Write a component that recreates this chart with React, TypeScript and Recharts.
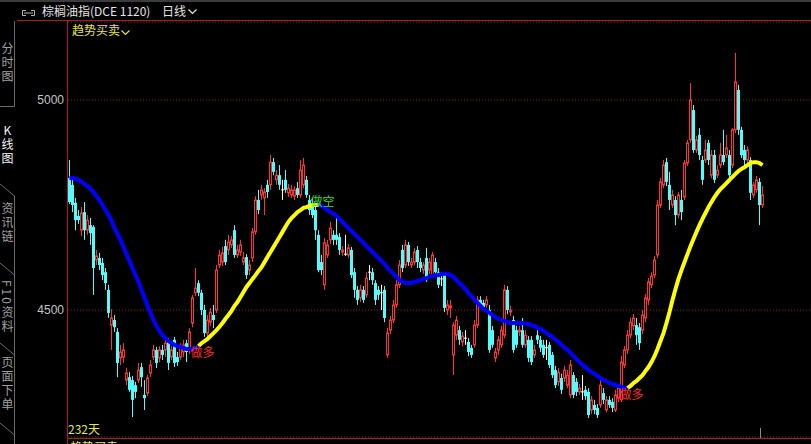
import React from 'react';
import { ComposedChart, Bar, Line, XAxis, YAxis, CartesianGrid, ReferenceDot } from 'recharts';

// 棕榈油指 daily candles (OHLC), oldest first
const openPx = [
  4814, 4798, 4755, 4724, 4690, 4733, 4690, 4702, 4698, 4619,
  4624, 4612, 4590, 4548, 4464, 4476, 4448, 4386, 4388, 4333,
  4340, 4333, 4321, 4333, 4364, 4298, 4302, 4350, 4388, 4405,
  4386, 4405, 4405, 4424, 4388, 4429, 4388, 4388, 4400, 4421,
  4405, 4469, 4541, 4564, 4541, 4500, 4445, 4471, 4488, 4500,
  4607, 4614, 4652, 4643, 4655, 4690, 4631, 4638, 4614, 4626,
  4595, 4624, 4686, 4762, 4774, 4767, 4798, 4798, 4852, 4810,
  4821, 4786, 4810, 4779, 4774, 4771, 4790, 4774, 4798, 4810,
  4762, 4750, 4738, 4679, 4614, 4560, 4631, 4667, 4679, 4679,
  4674, 4638, 4633, 4631, 4643, 4590, 4548, 4529, 4548, 4536,
  4590, 4590, 4564, 4548, 4541, 4548, 4393, 4452, 4476, 4512,
  4560, 4643, 4607, 4655, 4607, 4614, 4643, 4614, 4595, 4624,
  4595, 4583, 4614, 4590, 4574, 4583, 4500, 4505, 4393, 4440,
  4452, 4424, 4433, 4424, 4410, 4417, 4464, 4524, 4517, 4512,
  4500, 4452, 4386, 4405, 4417, 4440, 4548, 4495, 4476, 4452,
  4448, 4452, 4417, 4429, 4429, 4393, 4440, 4429, 4417, 4410,
  4417, 4393, 4357, 4329, 4338, 4338, 4321, 4298, 4345, 4329,
  4305, 4305, 4310, 4305, 4262, 4274, 4267, 4274, 4302, 4262,
  4286, 4281, 4262, 4290, 4286, 4369, 4405, 4440, 4462, 4464,
  4459, 4452, 4481, 4524, 4560, 4583, 4631, 4750, 4798, 4852,
  4798, 4750, 4762, 4726, 4762, 4769, 4850, 4905, 4976, 4881,
  4917, 4857, 4857, 4898, 4821, 4869, 4821, 4845, 4869, 4869,
  4869, 4845, 4929, 5024, 4929, 4881, 4857, 4857, 4774, 4786,
  4805, 4750,
];

const highPx = [
  4857, 4810, 4767, 4738, 4745, 4757, 4726, 4719, 4702, 4643,
  4636, 4624, 4600, 4560, 4502, 4488, 4457, 4417, 4421, 4362,
  4352, 4343, 4329, 4374, 4374, 4333, 4345, 4381, 4417, 4412,
  4414, 4417, 4429, 4433, 4414, 4436, 4400, 4421, 4429, 4429,
  4457, 4536, 4600, 4571, 4548, 4512, 4488, 4505, 4512, 4607,
  4643, 4650, 4667, 4679, 4676, 4702, 4655, 4667, 4638, 4633,
  4619, 4695, 4771, 4786, 4798, 4790, 4810, 4869, 4862, 4833,
  4845, 4810, 4833, 4800, 4798, 4795, 4805, 4857, 4862, 4819,
  4774, 4767, 4750, 4690, 4631, 4671, 4667, 4710, 4690, 4726,
  4683, 4652, 4679, 4657, 4650, 4600, 4557, 4560, 4557, 4590,
  4607, 4600, 4571, 4557, 4560, 4557, 4457, 4486, 4524, 4571,
  4619, 4655, 4667, 4662, 4624, 4648, 4652, 4624, 4614, 4648,
  4624, 4638, 4624, 4600, 4590, 4590, 4524, 4524, 4471, 4486,
  4462, 4448, 4452, 4433, 4417, 4476, 4533, 4533, 4524, 4533,
  4512, 4462, 4410, 4438, 4462, 4560, 4557, 4510, 4486, 4462,
  4462, 4481, 4452, 4438, 4438, 4417, 4452, 4438, 4429, 4429,
  4424, 4400, 4367, 4362, 4348, 4367, 4357, 4381, 4352, 4338,
  4324, 4345, 4319, 4314, 4295, 4286, 4276, 4333, 4314, 4295,
  4295, 4290, 4310, 4324, 4390, 4414, 4452, 4481, 4490, 4481,
  4469, 4500, 4538, 4576, 4590, 4629, 4762, 4814, 4857, 4862,
  4829, 4786, 4771, 4781, 4786, 4857, 4905, 5040, 4988, 4914,
  4933, 4867, 4905, 4905, 4881, 4881, 4845, 4898, 4929, 4917,
  4881, 4933, 5112, 5036, 4936, 4893, 4890, 4864, 4805, 4819,
  4814, 4795,
];

const lowPx = [
  4752, 4733, 4690, 4705, 4676, 4667, 4679, 4655, 4536, 4607,
  4595, 4571, 4548, 4481, 4405, 4448, 4340, 4369, 4374, 4321,
  4305, 4245, 4290, 4326, 4317, 4262, 4295, 4340, 4381, 4362,
  4376, 4381, 4388, 4357, 4381, 4364, 4367, 4381, 4388, 4376,
  4395, 4459, 4533, 4533, 4488, 4436, 4429, 4462, 4457, 4493,
  4600, 4605, 4607, 4631, 4648, 4624, 4624, 4629, 4607, 4574,
  4583, 4614, 4679, 4728, 4762, 4726, 4767, 4786, 4821, 4798,
  4786, 4762, 4779, 4769, 4767, 4762, 4767, 4767, 4790, 4767,
  4726, 4719, 4667, 4590, 4583, 4548, 4624, 4657, 4655, 4655,
  4631, 4629, 4629, 4624, 4576, 4529, 4512, 4519, 4517, 4529,
  4571, 4560, 4512, 4524, 4500, 4471, 4386, 4443, 4469, 4505,
  4552, 4590, 4600, 4605, 4600, 4607, 4600, 4590, 4586, 4567,
  4586, 4576, 4581, 4552, 4557, 4495, 4488, 4481, 4345, 4428,
  4417, 4414, 4417, 4390, 4386, 4410, 4457, 4505, 4500, 4505,
  4398, 4410, 4376, 4393, 4410, 4433, 4490, 4486, 4398, 4410,
  4438, 4410, 4410, 4376, 4369, 4386, 4419, 4400, 4386, 4381,
  4362, 4338, 4314, 4319, 4300, 4329, 4314, 4290, 4290, 4295,
  4298, 4286, 4286, 4243, 4252, 4252, 4243, 4267, 4276, 4257,
  4267, 4257, 4257, 4281, 4281, 4362, 4395, 4433, 4452, 4417,
  4405, 4443, 4471, 4512, 4552, 4576, 4624, 4743, 4790, 4795,
  4738, 4743, 4702, 4719, 4714, 4762, 4843, 4898, 4874, 4874,
  4857, 4798, 4850, 4845, 4814, 4802, 4814, 4838, 4845, 4862,
  4814, 4838, 4921, 4917, 4862, 4845, 4850, 4762, 4767, 4779,
  4702, 4743,
];

const closePx = [
  4757, 4750, 4714, 4714, 4731, 4690, 4714, 4683, 4600, 4629,
  4607, 4583, 4564, 4493, 4481, 4459, 4374, 4400, 4405, 4350,
  4310, 4286, 4305, 4357, 4340, 4290, 4338, 4369, 4405, 4374,
  4405, 4393, 4421, 4374, 4405, 4374, 4376, 4412, 4417, 4400,
  4448, 4529, 4552, 4541, 4500, 4445, 4476, 4495, 4476, 4595,
  4631, 4636, 4614, 4662, 4667, 4631, 4643, 4655, 4624, 4583,
  4607, 4686, 4762, 4738, 4786, 4781, 4781, 4852, 4829, 4821,
  4798, 4786, 4786, 4790, 4786, 4786, 4774, 4833, 4845, 4774,
  4738, 4726, 4690, 4595, 4595, 4660, 4655, 4695, 4667, 4667,
  4643, 4643, 4633, 4648, 4583, 4548, 4524, 4548, 4524, 4576,
  4590, 4571, 4524, 4536, 4541, 4481, 4445, 4476, 4512, 4560,
  4607, 4600, 4655, 4614, 4614, 4638, 4614, 4600, 4607, 4571,
  4614, 4631, 4590, 4560, 4574, 4505, 4512, 4510, 4464, 4476,
  4429, 4438, 4433, 4400, 4393, 4464, 4524, 4512, 4507, 4524,
  4405, 4417, 4400, 4429, 4452, 4548, 4500, 4500, 4405, 4417,
  4452, 4417, 4440, 4386, 4376, 4405, 4429, 4410, 4393, 4410,
  4369, 4345, 4321, 4352, 4310, 4357, 4345, 4369, 4298, 4305,
  4314, 4305, 4295, 4250, 4286, 4262, 4250, 4321, 4286, 4286,
  4274, 4267, 4298, 4314, 4376, 4405, 4440, 4471, 4481, 4440,
  4421, 4488, 4529, 4567, 4581, 4619, 4750, 4805, 4845, 4805,
  4762, 4774, 4726, 4774, 4733, 4850, 4898, 5000, 4881, 4905,
  4869, 4810, 4881, 4857, 4869, 4810, 4833, 4869, 4852, 4886,
  4821, 4929, 5043, 4929, 4869, 4857, 4881, 4779, 4798, 4810,
  4750, 4774,
];

// 趋势买卖 trend line value per candle
const trendLine = [
  4814, 4814, 4812, 4810, 4805, 4800, 4795, 4788, 4781, 4771,
  4762, 4750, 4738, 4726, 4712, 4695, 4681, 4667, 4650, 4633,
  4617, 4600, 4583, 4567, 4548, 4529, 4510, 4493, 4476, 4462,
  4450, 4440, 4433, 4426, 4421, 4417, 4414, 4412, 4410, 4407,
  4407, 4407, 4410, 4414, 4421, 4426, 4431, 4438, 4445, 4452,
  4460, 4469, 4479, 4488, 4498, 4510, 4519, 4531, 4543, 4555,
  4564, 4574, 4583, 4593, 4602, 4614, 4626, 4638, 4650, 4662,
  4674, 4686, 4698, 4710, 4719, 4726, 4733, 4738, 4743, 4745,
  4748, 4750, 4750, 4750, 4748, 4743, 4738, 4733, 4729, 4724,
  4717, 4710, 4702, 4695, 4688, 4681, 4674, 4667, 4660, 4652,
  4645, 4638, 4631, 4624, 4617, 4610, 4600, 4593, 4586, 4579,
  4571, 4567, 4564, 4564, 4564, 4567, 4569, 4571, 4574, 4576,
  4579, 4581, 4583, 4583, 4586, 4586, 4586, 4583, 4579, 4571,
  4564, 4557, 4550, 4540, 4533, 4524, 4517, 4510, 4502, 4498,
  4493, 4488, 4483, 4479, 4476, 4474, 4471, 4469, 4469, 4469,
  4469, 4469, 4467, 4467, 4464, 4462, 4457, 4455, 4450, 4445,
  4440, 4436, 4429, 4424, 4417, 4410, 4405, 4398, 4390, 4383,
  4376, 4369, 4364, 4357, 4352, 4348, 4343, 4338, 4333, 4331,
  4326, 4324, 4321, 4319, 4317, 4314, 4314, 4319, 4326, 4331,
  4338, 4345, 4355, 4364, 4376, 4390, 4407, 4426, 4445, 4469,
  4495, 4524, 4550, 4574, 4595, 4614, 4633, 4652, 4669, 4686,
  4702, 4717, 4731, 4745, 4757, 4769, 4779, 4788, 4795, 4802,
  4810, 4817, 4824, 4831, 4836, 4840, 4845, 4850, 4852, 4852,
  4850, 4845,
];

// buy / sell signals on the trend line (candle index + text)
const signalAt = [43, 83, 186];
const signalText = ['做多', '做空', '做多'];

const priceTicks = [4500, 5000];
const priceDomain: [number, number] = [4197.6, 5185.7];
const SLOTS = 248; // visible candle slots across the plot

// left-hand view tabs
const tabLabels = ['分时图', 'K线图', '资讯链', 'F10资料', '页面下单'];
const activeTab = 'K线图';

const UP = '#ff3232';
const DOWN = '#54fcfc';
const FLAT = '#ffffff';
const BEAR_LINE = '#0000ff';
const BULL_LINE = '#ffff00';
const FRAME = '#b01c1c';
const CJK = '"Noto Sans CJK SC", "Noto Sans", sans-serif';

const sideAt = (i: number): 'long' | 'short' => {
  let side: 'long' | 'short' = 'short';
  signalAt.forEach((at, k) => {
    if (at <= i) side = signalText[k] === '做多' ? 'long' : 'short';
  });
  return side;
};

const rows = Array.from({ length: SLOTS }, (_, i) => {
  if (i >= closePx.length) return { i };
  const s = sideAt(i);
  const prev = i > 0 ? sideAt(i - 1) : s;
  return {
    i,
    open: openPx[i],
    high: highPx[i],
    low: lowPx[i],
    close: closePx[i],
    bear: s === 'short' || prev === 'short' ? trendLine[i] : null,
    bull: s === 'long' || prev === 'long' ? trendLine[i] : null,
  };
});

function Candle(props: any) {
  const { x, y, width, height, payload } = props;
  if (!payload || payload.high == null) return null;
  const { open, close, high, low } = payload;
  const top = Math.min(y, y + height);
  const bottom = Math.max(y, y + height);
  const k = (bottom - top) / (high - low);
  const py = (v: number) => top + (high - v) * k;
  const cx = Math.floor(x + width / 2) + 0.5;
  const oY = py(open);
  const cY = py(close);
  if (close > open) {
    return (
      <g>
        <line x1={cx} x2={cx} y1={top} y2={cY} stroke={UP} strokeWidth={1} />
        <line x1={cx} x2={cx} y1={oY} y2={bottom} stroke={UP} strokeWidth={1} />
        <rect x={cx - 1} y={cY} width={2} height={Math.max(oY - cY, 1)} fill="#000" stroke={UP} strokeWidth={1} />
      </g>
    );
  }
  if (close < open) {
    return (
      <g>
        <line x1={cx} x2={cx} y1={top} y2={bottom} stroke={DOWN} strokeWidth={1} />
        <rect x={cx - 1.5} y={oY} width={3} height={Math.max(cY - oY, 1)} fill={DOWN} />
      </g>
    );
  }
  return (
    <g>
      <line x1={cx} x2={cx} y1={top} y2={bottom} stroke={FLAT} strokeWidth={1} />
      <line x1={cx - 1.5} x2={cx + 1.5} y1={oY} y2={oY} stroke={FLAT} strokeWidth={1} />
    </g>
  );
}

function SignalMark(props: any) {
  const { cx, cy, text } = props;
  const long = text === '做多';
  return (
    <text
      x={cx - 8}
      y={long ? cy + 11 : cy + 1}
      fill={long ? '#ff2a2a' : '#3cdc3c'}
      fontSize={12}
      fontFamily={CJK}
    >
      {text}
    </text>
  );
}

// tab column: top of first glyph for each tab
const tabTops = [42, 124, 202, 280, 356];

function Sidebar() {
  return (
    <>
      <svg width={16} height={444} style={{ position: 'absolute', left: 0, top: 0 }}>
        <g stroke="#6a6a6a" strokeWidth={1} fill="none">
          <path d="M14.5 21 V106.5 H0" />
          <path d="M0 184 L14.5 196 V444" />
          <path d="M0 263 L14.5 275" />
          <path d="M0 343 L14.5 355" />
          <path d="M0 423 L14.5 435" />
        </g>
      </svg>
      {tabLabels.map((label, k) => (
        <div
          key={label}
          style={{
            position: 'absolute',
            left: 1,
            top: tabTops[k],
            writingMode: 'vertical-rl',
            textOrientation: label === activeTab ? 'upright' : 'mixed',
            fontSize: 12,
            lineHeight: '12px',
            letterSpacing: 2,
            color: label === activeTab ? '#f4f4f4' : '#a0a0a0',
            fontFamily: CJK,
            whiteSpace: 'nowrap',
          }}
        >
          {label}
        </div>
      ))}
    </>
  );
}

export default function App() {
  return (
    <div
      style={{
        position: 'fixed',
        left: 0,
        top: 0,
        width: 811,
        height: 444,
        overflow: 'hidden',
        background: '#000',
        fontFamily: CJK,
      }}
    >
      <div style={{ position: 'absolute', left: 0, top: 0, width: 811, height: 2, background: '#3c3c3c' }} />

      {/* title bar */}
      <svg width={40} height={20} style={{ position: 'absolute', left: 0, top: 0 }}>
        <g stroke="#b4b4b4" strokeWidth={1} fill="none">
          <path d="M26 10.5 H22.5 V15.5 H26" />
          <path d="M31 10.5 H34.5 V15.5 H31" />
          <path d="M24 13 H33" />
        </g>
      </svg>
      <div style={{ position: 'absolute', left: 42, top: 4, fontSize: 12, lineHeight: '14px', color: '#e4e4e4', whiteSpace: 'nowrap' }}>
        棕榈油指(DCE 1120)
      </div>
      <div style={{ position: 'absolute', left: 162, top: 4, fontSize: 12, lineHeight: '14px', color: '#e4e4e4', whiteSpace: 'nowrap' }}>
        日线
      </div>
      <svg width={12} height={10} style={{ position: 'absolute', left: 187, top: 7 }}>
        <path d="M1.5 2.5 L5.5 6.5 L9.5 2.5" stroke="#e4e4e4" strokeWidth={1.2} fill="none" />
      </svg>

      <Sidebar />

      {/* frame */}
      <div style={{ position: 'absolute', left: 17, top: 20, width: 794, height: 1, background: FRAME }} />
      <div style={{ position: 'absolute', left: 67, top: 21, width: 1, height: 423, background: FRAME }} />
      <div style={{ position: 'absolute', left: 67, top: 438, width: 744, height: 1, background: FRAME }} />

      <div style={{ position: 'absolute', left: 0, top: 0 }}>
        <ComposedChart
          width={812}
          height={444}
          data={rows}
          margin={{ top: 22, right: 0, bottom: 7, left: 0 }}
          barCategoryGap={0}
          barGap={0}
        >
          <CartesianGrid vertical={false} stroke="#a01414" strokeDasharray="1 2" />
          <XAxis dataKey="i" type="category" hide />
          <YAxis
            type="number"
            width={68}
            domain={priceDomain}
            allowDataOverflow
            ticks={priceTicks}
            interval={0}
            axisLine={false}
            tickLine={false}
            tickSize={0}
            tickMargin={4}
            tick={{ fill: '#c4c4c4', fontSize: 12, fontFamily: '"Liberation Sans", Arial, sans-serif' }}
          />
          <Bar
            dataKey={(r: any) => (r.high == null ? null : [r.low, r.high])}
            barSize={3}
            shape={<Candle />}
            isAnimationActive={false}
          />
          <Line
            dataKey="bear"
            stroke={BEAR_LINE}
            strokeWidth={4}
            dot={false}
            activeDot={false}
            connectNulls={false}
            isAnimationActive={false}
          />
          <Line
            dataKey="bull"
            stroke={BULL_LINE}
            strokeWidth={4}
            dot={false}
            activeDot={false}
            connectNulls={false}
            isAnimationActive={false}
          />
          {signalAt.map((at, k) => (
            <ReferenceDot
              key={k}
              x={at}
              y={trendLine[at]}
              r={0}
              ifOverflow="visible"
              shape={(p: any) => <SignalMark {...p} text={signalText[k]} />}
            />
          ))}
        </ComposedChart>
      </div>

      {/* indicator captions */}
      <div style={{ position: 'absolute', left: 72, top: 23, fontSize: 12, lineHeight: '14px', color: '#e6e64e', whiteSpace: 'nowrap' }}>
        趋势买卖
      </div>
      <svg width={12} height={10} style={{ position: 'absolute', left: 120, top: 28 }}>
        <path d="M1.5 2.5 L5.5 6.5 L9.5 2.5" stroke="#e6e64e" strokeWidth={1.2} fill="none" />
      </svg>
      <div style={{ position: 'absolute', left: 68, top: 422, fontSize: 12, lineHeight: '14px', color: '#e6e64e', whiteSpace: 'nowrap' }}>
        232天
      </div>
      <div style={{ position: 'absolute', left: 70, top: 440, fontSize: 12, lineHeight: '14px', color: '#e6e64e', whiteSpace: 'nowrap' }}>
        趋势买卖
      </div>
      <div style={{ position: 'absolute', left: 760, top: 428, width: 1, height: 10, background: '#8a8a8a' }} />
    </div>
  );
}
